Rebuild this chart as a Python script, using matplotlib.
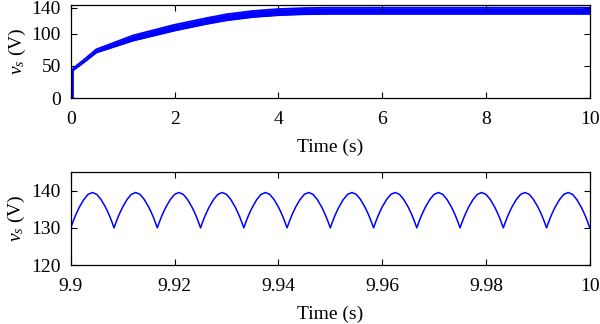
import numpy as np
import matplotlib
matplotlib.use('Agg')
import matplotlib.pyplot as plt

plt.rcParams['font.family'] = ['Liberation Serif', 'DejaVu Serif']
plt.rcParams['mathtext.fontset'] = 'custom'
plt.rcParams['mathtext.rm'] = 'Liberation Serif'
plt.rcParams['mathtext.it'] = 'Liberation Serif:italic'
plt.rcParams['font.size'] = 14

# top panel: envelope of v_s over the whole run
t_env = [0, 0.0, 0.02, 0.05, 0.26, 0.49, 1.2, 1.6, 2.0, 2.3, 2.6, 3.0, 3.5, 4.0, 4.5, 5.0, 6, 10]
v_mid = [0, 20, 40, 45, 58, 73, 93, 101, 109, 114, 119, 125, 130, 133, 134.5, 135, 135, 135]
v_half = [0, 0.5, 1, 1.5, 2, 2.5, 4, 4.3, 4.5, 4.5, 4.5, 4.7, 4.7, 4.75, 4.75, 4.75, 4.75, 4.75]

# bottom panel: zoom on the ripple, 9.9 s to 10 s
t_trough = [9.9 + k / 120 for k in range(12)]
period = 1 / 120
phase = [0, 0.05, 0.1, 0.15, 0.2, 0.3, 0.4, 0.5, 0.6, 0.7, 0.8, 0.85, 0.9, 0.95]
v_cycle = [130, 131.6, 133.1, 134.4, 135.6, 137.6, 139.0, 139.5, 139.0, 137.6, 135.6, 134.4, 133.1, 131.6]
v_end = 130

t_zoom = []
v_zoom = []
for t0 in t_trough:
    for p, v in zip(phase, v_cycle):
        t_zoom.append(t0 + p * period)
        v_zoom.append(v)
t_zoom.append(10.0)
v_zoom.append(v_end)

blue = '#0000ff'

fig = plt.figure(figsize=(6, 3.24), dpi=100)
ax0 = fig.add_axes([0.118, 0.6966, 0.865, 0.288])
ax1 = fig.add_axes([0.118, 0.182, 0.865, 0.287])

lo = np.array(v_mid) - np.array(v_half)
hi = np.array(v_mid) + np.array(v_half)
ax0.fill_between(t_env, lo, hi, color=blue, lw=0)
ax0.plot(t_env, lo, color=blue, lw=1.3, solid_joinstyle='round')
ax0.plot(t_env, hi, color=blue, lw=1.3, solid_joinstyle='round')
ax0.plot([0.02, 0.02], [0, 40], color=blue, lw=2)
ax0.set_xlim(0, 10)
ax0.set_ylim(0, 144)
ax0.set_xticks([0, 2, 4, 6, 8, 10])
ax0.set_yticks([0, 50, 100, 140])
ax0.set_xlabel('Time (s)', labelpad=8)
ax0.set_ylabel(r'$v_s$ (V)', labelpad=3)

ax1.plot(t_zoom, v_zoom, color=blue, lw=1.1)
ax1.set_xlim(9.9, 10)
ax1.set_ylim(120, 145)
ax1.set_xticks([9.9, 9.92, 9.94, 9.96, 9.98, 10])
ax1.set_xticklabels(['9.9', '9.92', '9.94', '9.96', '9.98', '10'])
ax1.set_yticks([120, 130, 140])
ax1.set_xlabel('Time (s)', labelpad=8)
ax1.set_ylabel(r'$v_s$ (V)', labelpad=3)

for ax in (ax0, ax1):
    ax.tick_params(direction='in', top=True, right=True, length=4, width=0.8)
    ax.tick_params(axis='x', pad=9)
    ax.tick_params(axis='y', pad=7)
    for s in ax.spines.values():
        s.set_linewidth(0.9)

fig.savefig('out.png', dpi=100)
